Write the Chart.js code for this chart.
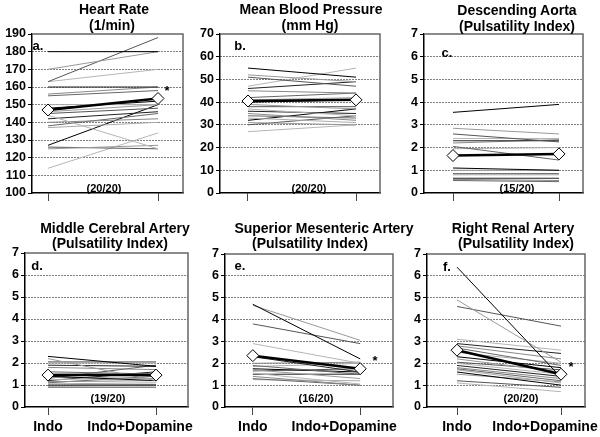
<!DOCTYPE html>
<html><head><meta charset="utf-8">
<script src="https://cdn.jsdelivr.net/npm/chart.js@4.4.0/dist/chart.umd.min.js"></script>
<style>
html,body{margin:0;padding:0;background:#fff;}
#wrap{position:relative;width:600px;height:437px;overflow:hidden;font-family:"Liberation Sans",Arial,sans-serif;font-weight:bold;color:#000;}
canvas{position:absolute;}
.t{position:absolute;white-space:nowrap;transform:translate(-50%,-50%);line-height:1;}
</style></head><body><div id="wrap"></div>
<script>
// ---- data ----
const categories = ['Indo', 'Indo+Dopamine'];

const hrTicks = [100,110,120,130,140,150,160,170,180,190];
const mbpTicks = [0,10,20,30,40,50,60,70];
const piTicks = [0,1,2,3,4,5,6,7];

const hrIndo = [180,170,163,163,160,156,155,150,148,146,145,144,142,140,138,137,127,125,126,114];
const hrDopa = [180,180,188,170,160,160,158,150,152,150,148,125,146,142,145,140,150,127,125,134];
const hrMean = [147, 153.5];

const mbpIndo = [55,52,51,47,46,45,42,41,40,39,38,37,36,35,34,33,32,31,30,27];
const mbpDopa = [51,49,47,55,49,44,44,42,41,37,38,34,35,32,33,31,37,30,34,30];
const mbpMean = [40.5, 41];

const daIndo = [3.55,2.85,2.6,2.4,2.3,2.2,2.05,1.95,1.1,1.0,0.85,0.8,0.65,0.6,0.55];
const daDopa = [3.9,2.6,2.25,2.4,2.3,2.35,1.45,2.0,1.0,1.0,0.85,0.8,0.65,0.55,0.5];
const daMean = [1.65, 1.72];

const mcaIndo = [2.3,2.2,2.05,2.0,1.9,1.8,1.6,1.5,1.4,1.35,1.3,1.25,1.2,1.15,1.1,1.05,1.0,0.95,0.9];
const mcaDopa = [1.85,1.2,2.05,2.0,1.85,1.7,1.5,1.5,1.2,1.3,1.9,1.3,1.6,1.2,1.4,1.1,1.0,1.0,0.9];
const mcaMean = [1.45, 1.45];

const smaIndo = [4.7,4.65,3.8,2.9,2.3,2.0,1.9,1.85,1.75,1.7,1.65,1.55,1.5,1.4,1.3,1.25];
const smaDopa = [2.2,3.05,2.9,2.0,1.6,2.05,1.5,2.0,1.6,1.3,1.75,1.05,1.5,1.0,1.0,1.2];
const smaMean = [2.35, 1.75];

const rraIndo = [6.4,4.9,4.6,3.1,2.9,2.8,2.7,2.5,2.3,2.2,2.05,2.0,1.9,1.8,1.75,1.7,1.6,1.5,1.2,1.1];
const rraDopa = [1.35,2.05,3.7,2.6,2.45,2.2,1.9,2.0,1.8,1.6,1.7,1.5,1.4,1.3,1.2,1.1,1.0,1.15,0.9,0.7];
const rraMean = [2.6, 1.5];

// ---- layout / style ----
const shades = ['#000','#999','#555','#b5b5b5','#222','#888','#666','#aaa'];
const panels = [
  {indo:hrIndo, dopa:hrDopa, mean:hrMean, ticks:hrTicks, title:['Heart Rate','(1/min)'], tc:[114,112], ty:[9,25], letter:'a.', lp:[33,45], n:'(20/20)', np:[104,188], star:[167,88],
   cv:{l:0,t:0,w:200,h:215}, area:{L:32,R:183,T:34,B:193}, tx:[48,158], labels:false},
  {indo:mbpIndo, dopa:mbpDopa, mean:mbpMean, ticks:mbpTicks, title:['Mean Blood Pressure','(mm Hg)'], tc:[311,310], ty:[9,25], letter:'b.', lp:[235,45], n:'(20/20)', np:[309,188], star:null,
   cv:{l:185,t:0,w:210,h:215}, area:{L:220,R:380,T:34,B:193}, tx:[248,356], labels:false},
  {indo:daIndo, dopa:daDopa, mean:daMean, ticks:piTicks, title:['Descending Aorta','(Pulsatility Index)'], tc:[517,517], ty:[10,26], letter:'c.', lp:[442,52], n:'(15/20)', np:[517,188], star:null,
   cv:{l:390,t:0,w:210,h:215}, area:{L:424,R:583,T:34,B:193}, tx:[453,559], labels:false},
  {indo:mcaIndo, dopa:mcaDopa, mean:mcaMean, ticks:piTicks, title:['Middle Cerebral Artery','(Pulsatility Index)'], tc:[115,110], ty:[228,243], letter:'d.', lp:[32,265], n:'(19/20)', np:[108,398], star:null,
   cv:{l:0,t:215,w:205,h:222}, area:{L:25,R:188,T:253,B:407}, tx:[48,156], labels:true},
  {indo:smaIndo, dopa:smaDopa, mean:smaMean, ticks:piTicks, title:['Superior Mesenteric Artery','(Pulsatility Index)'], tc:[324,310], ty:[228,243], letter:'e.', lp:[235,265], n:'(16/20)', np:[316,398], star:[375,358],
   cv:{l:190,t:215,w:210,h:222}, area:{L:225,R:394,T:254,B:407}, tx:[253,361], labels:true},
  {indo:rraIndo, dopa:rraDopa, mean:rraMean, ticks:piTicks, title:['Right Renal Artery','(Pulsatility Index)'], tc:[513,516], ty:[228,243], letter:'f.', lp:[442,266], n:'(20/20)', np:[521,398], star:[571,364],
   cv:{l:392,t:215,w:208,h:222}, area:{L:427,R:585,T:254,B:407}, tx:[457,561], labels:true}
];

const FONT = '"Liberation Sans", Arial, sans-serif';
const wrap = document.getElementById('wrap');

function addText(txt, x, y, size){
  const d = document.createElement('div');
  d.className = 't';
  d.style.left = x + 'px'; d.style.top = y + 'px'; d.style.fontSize = size + 'px';
  d.textContent = txt;
  wrap.appendChild(d);
}

const framePlugin = {
  id: 'frame',
  beforeDatasetsDraw(chart){
    const {ctx, chartArea: a} = chart;
    ctx.save();
    ctx.strokeStyle = '#666'; ctx.lineWidth = 1.5;
    ctx.beginPath();
    ctx.moveTo(a.left, a.top); ctx.lineTo(a.right, a.top); ctx.lineTo(a.right, a.bottom);
    ctx.stroke();
    ctx.restore();
  },
  afterDraw(chart, args, opts){
    if (!opts || !opts.labels) return;
    const ctx = chart.ctx, xs = chart.scales.x;
    ctx.save();
    ctx.font = 'bold 14px ' + FONT;
    ctx.fillStyle = '#000';
    ctx.textAlign = 'center'; ctx.textBaseline = 'middle';
    categories.forEach((c, i) => {
      ctx.fillText(c, xs.getPixelForValue(i) + opts.shift[i], opts.y);
    });
    ctx.restore();
  }
};

panels.forEach(p => {
  const c = document.createElement('canvas');
  c.width = p.cv.w; c.height = p.cv.h;
  c.style.left = p.cv.l + 'px'; c.style.top = p.cv.t + 'px';
  c.style.width = p.cv.w + 'px'; c.style.height = p.cv.h + 'px';
  wrap.appendChild(c);

  const yw = p.area.L - p.cv.l;
  const padTop = p.area.T - p.cv.t;
  const padRight = p.cv.l + p.cv.w - p.area.R;
  const xh = p.cv.t + p.cv.h - p.area.B;
  const unit = p.tx[1] - p.tx[0];
  const xmin = -(p.tx[0] - p.area.L) / unit;
  const xmax = 1 + (p.area.R - p.tx[1]) / unit;
  const ymin = p.ticks[0], ymax = p.ticks[p.ticks.length - 1];

  const datasets = [{
    data: [{x:0, y:p.mean[0]}, {x:1, y:p.mean[1]}],
    borderColor: '#000', borderWidth: 2.5,
    pointStyle: 'rectRot', pointRadius: 6, pointBackgroundColor: '#fff',
    pointBorderColor: '#000', pointBorderWidth: 1
  }];
  p.indo.forEach((v, i) => {
    datasets.push({
      data: [{x:0, y:v}, {x:1, y:p.dopa[i]}],
      borderColor: shades[i % shades.length], borderWidth: 1, pointRadius: 0
    });
  });

  new Chart(c, {
    type: 'line',
    data: { datasets },
    options: {
      responsive: false, animation: false, events: [], devicePixelRatio: 1,
      layout: { padding: { top: padTop, right: padRight, left: 0, bottom: 0 } },
      plugins: {
        legend: { display: false }, tooltip: { enabled: false }, title: { display: false },
        frame: { labels: p.labels, shift: [0, -16], y: 212 }
      },
      scales: {
        x: {
          type: 'linear', min: xmin, max: xmax,
          afterBuildTicks: s => { s.ticks = [{value:0}, {value:1}]; },
          afterFit: s => { s.height = xh; },
          ticks: { display: false },
          grid: { drawOnChartArea: false, drawTicks: true, tickLength: 8, tickColor: '#444', tickWidth: 1 },
          border: { display: true, color: '#000', width: 1.5 }
        },
        y: {
          type: 'linear', min: ymin, max: ymax,
          afterBuildTicks: s => { s.ticks = p.ticks.map(v => ({value: v})); },
          afterFit: s => { s.width = yw; },
          ticks: { font: { family: FONT, weight: 'bold', size: 12.5 }, color: '#000', padding: 2, autoSkip: false },
          grid: {
            color: ctx => (ctx.tick && (ctx.tick.value === ymax || ctx.tick.value === ymin)) ? 'rgba(0,0,0,0)' : '#000',
            lineWidth: 1, drawTicks: true, tickLength: 4, tickColor: '#000', tickWidth: 1, tickBorderDash: []
          },
          border: { display: true, color: '#000', width: 1.5, dash: [1, 2] }
        }
      }
    },
    plugins: [framePlugin]
  });

  addText(p.title[0], p.tc[0], p.ty[0], 14);
  addText(p.title[1], p.tc[1], p.ty[1], 14);
  addText(p.letter, p.lp[0] + 5, p.lp[1], 13);
  addText(p.n, p.np[0], p.np[1], 11);
  if (p.star) addText('*', p.star[0], p.star[1] + 2, 13);
});
</script></body></html>
